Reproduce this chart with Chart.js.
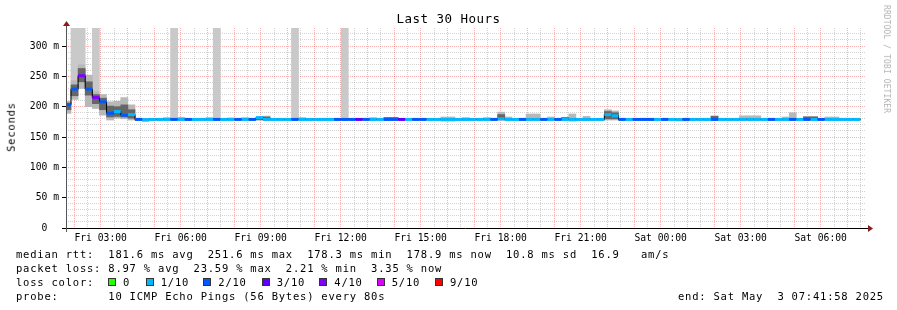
<!DOCTYPE html>
<html>
<head>
<meta charset="utf-8">
<script src="https://cdn.jsdelivr.net/npm/chart.js@4/dist/chart.umd.min.js"></script>
<style>
  html, body { margin: 0; padding: 0; background: #fff; }
  #wrap { position: relative; width: 897px; height: 310px; overflow: hidden;
          font-family: 'DejaVu Sans Mono', monospace; color: #000; }
  #wrap canvas { position: absolute; left: 0; top: 0; }
  .txt { position: absolute; white-space: pre; font-size: 10.5px; line-height: 10.5px; letter-spacing: 0.78px; }
  .title { position: absolute; left: 0; width: 897px; top: 13px; text-align: center; white-space: pre;
           font-size: 12.5px; line-height: 12.5px; letter-spacing: 0.47px; }
  .ylab { position: absolute; left: 11px; top: 127px; transform: translate(-50%, -50%) rotate(-90deg); }
  .credit { position: absolute; left: 886px; top: 59px; transform: translate(-50%, -50%) rotate(90deg);
            white-space: pre; font-size: 8px; line-height: 8px; letter-spacing: 0.1px; color: #b4b4b4; }
  .sq { position: absolute; top: 278px; width: 6px; height: 6px; border: 1px solid #333; }
</style>
</head>
<body>
<div id="wrap">
  <canvas id="smoke" width="897" height="310"></canvas>
  <div class="title">Last 30 Hours</div>
  <div class="txt ylab">Seconds</div>
  <div class="credit">RRDTOOL / TOBI OETIKER</div>
  <div class="txt" style="left:16px; top:249.4px">median rtt:  181.6 ms avg  251.6 ms max  178.3 ms min  178.9 ms now  10.8 ms sd  16.9   am/s</div>
  <div class="txt" style="left:16px; top:263.4px">packet loss: 8.97 % avg  23.59 % max  2.21 % min  3.35 % now</div>
  <div class="txt" style="left:16px; top:277.4px">loss color:</div>
  <div id="lossLegend"></div>
  <div class="txt" style="left:16px; top:291.4px">probe:       10 ICMP Echo Pings (56 Bytes) every 80s</div>
  <div class="txt" style="left:678px; top:291.4px">end: Sat May  3 07:41:58 2025</div>
</div>
<script>
// time axis, in hours counted from Fri 00:00
const rangeStartHour = 1 + 41 / 60 + 58 / 3600;   // Fri 01:41:58
const rangeHours = 30;
const labelHours = [3, 6, 9, 12, 15, 18, 21, 24, 27, 30];
const timeLabels = ['Fri 03:00', 'Fri 06:00', 'Fri 09:00', 'Fri 12:00', 'Fri 15:00',
                    'Fri 18:00', 'Fri 21:00', 'Sat 00:00', 'Sat 03:00', 'Sat 06:00'];

const yTop = 329.7;
const yLabelValues = [0, 50, 100, 150, 200, 250, 300];
const yLabels = ['0  ', '50 m', '100 m', '150 m', '200 m', '250 m', '300 m'];

// 16 minute consolidation steps, first one starts before the graph
const firstStepHour = 1.62;
const stepHours = 16 / 60;

// median rtt per step (ms)
const medianMs = [
  203, 229, 251, 229, 215, 208, 189, 192, 186, 187,
  179, 178.5, 179, 179, 179, 179, 179, 179, 179, 179,
  179, 179, 179, 179, 179, 179, 179, 182, 179, 179,
  179, 179, 179, 179, 179, 179, 179, 179, 179, 179,
  179, 179, 179, 179, 179, 179, 179, 179, 179, 179,
  179, 179, 179, 179, 179, 179, 179, 179, 179, 179,
  179, 180, 179, 179, 179, 179, 179, 179, 179, 179,
  179, 179, 179, 179, 179, 179, 187, 185, 179, 179,
  179, 179, 179, 179, 179, 179, 178.5, 179, 179, 179,
  179, 179, 179, 179, 179, 179, 179, 179, 179, 179,
  179, 179, 179, 179, 179, 179, 179, 179, 179, 179,
  179, 179
];

// loss class per step: index into lossLabels
const lossIdx = [
  2, 2, 4, 2, 4, 2, 2, 1, 2, 1,
  2, 1, 1, 1, 1, 2, 1, 2, 1, 1,
  1, 2, 1, 1, 2, 1, 2, 1, 1, 1,
  1, 1, 2, 1, 1, 1, 1, 1, 2, 2,
  2, 3, 2, 1, 1, 2, 2, 3, 1, 2,
  2, 1, 1, 1, 1, 1, 1, 1, 1, 1,
  2, 1, 1, 1, 2, 1, 1, 2, 1, 2,
  1, 1, 1, 1, 1, 1, 1, 1, 2, 1,
  2, 2, 2, 1, 2, 1, 1, 2, 1, 1,
  1, 2, 1, 1, 1, 1, 1, 1, 1, 2,
  1, 1, 2, 1, 2, 1, 2, 1, 1, 1,
  1, 1
];

// outer smoke band (ms)
const smokeLo = [
  189, 212, 230, 200, 197, 186, 178, 181, 180, 178,
  177.5, 175.5, 177.5, 177.5, 177.5, 177.5, 177.5, 177.5, 177.5, 177.5,
  177.5, 177.5, 177.5, 177.5, 177.5, 177.5, 177.5, 177.5, 177.5, 177.5,
  177.5, 177.5, 177.5, 177.5, 177.5, 177.5, 177.5, 177.5, 177.5, 177.5,
  177.5, 177.5, 177.5, 177.5, 177.5, 177.5, 177.5, 177.5, 177.5, 177.5,
  177.5, 177.5, 177.5, 176, 176, 177.5, 177.5, 177.5, 177.5, 177.5,
  177.5, 177.5, 177.5, 177.5, 177.5, 177.5, 177.5, 177.5, 177.5, 177.5,
  177.5, 176, 177.5, 177.5, 177.5, 177.5, 178, 178, 177.5, 177.5,
  177.5, 177.5, 177.5, 177.5, 177.5, 177.5, 177.5, 176.5, 177.5, 177.5,
  177.5, 177.5, 177.5, 177.5, 177.5, 177.5, 177.5, 177.5, 177.5, 177.5,
  177.5, 177.5, 177.5, 177.5, 177.5, 177.5, 177.5, 177.5, 177.5, 177.5,
  177.5, 177.5
];
const smokeHi = [
  209, 243, 269, 252, 225, 220, 208, 209, 215, 203,
  181, 180.5, 180.5, 180.5, 182, 180.5, 182.5, 180.5, 180.5, 180.5,
  182, 180.5, 180.5, 181.5, 180.5, 182, 180.5, 180.5, 184.5, 180.5,
  180.5, 180.5, 180.5, 182, 180.5, 180.5, 180.5, 180.5, 180.5, 180.5,
  180.5, 180.5, 180.5, 182, 180.5, 182.5, 182.5, 180.5, 180.5, 180.5,
  180.5, 180.5, 180.5, 183, 183, 180.5, 182, 180.5, 180.5, 182,
  180.5, 191, 183, 180.5, 180.5, 188, 188, 180.5, 183, 180.5,
  182.5, 188, 180.5, 184, 180.5, 180.5, 195, 193, 180.5, 180.5,
  180.5, 180.5, 180.5, 180.5, 180.5, 180.5, 180.5, 180.5, 180.5, 180.5,
  180.5, 185, 180.5, 180.5, 180.5, 185, 185, 185, 180.5, 180.5,
  180.5, 183, 190, 180.5, 184, 184, 180.5, 183, 183, 180.5,
  180.5, 180.5
];
// dense core of the smoke (ms)
const coreLo = [
  195, 218, 241, 219, 205, 195, 183, 184, 183, 181,
  178.5, 178.5, 178.5, 178.5, 178.5, 178.5, 178.5, 178.5, 178.5, 178.5,
  178.5, 178.5, 178.5, 178.5, 178.5, 178.5, 178.5, 178.5, 178.5, 178.5,
  178.5, 178.5, 178.5, 178.5, 178.5, 178.5, 178.5, 178.5, 178.5, 178.5,
  178.5, 178.5, 178.5, 178.5, 178.5, 178.5, 178.5, 178.5, 178.5, 178.5,
  178.5, 178.5, 178.5, 178.5, 178.5, 178.5, 178.5, 178.5, 178.5, 178.5,
  178.5, 178.5, 178.5, 178.5, 178.5, 178.5, 178.5, 178.5, 178.5, 178.5,
  178.5, 178.5, 178.5, 178.5, 178.5, 178.5, 180, 180, 178.5, 178.5,
  178.5, 178.5, 178.5, 178.5, 178.5, 178.5, 178.5, 178.5, 178.5, 178.5,
  178.5, 178.5, 178.5, 178.5, 178.5, 178.5, 178.5, 178.5, 178.5, 178.5,
  178.5, 178.5, 178.5, 178.5, 178.5, 178.5, 178.5, 178.5, 178.5, 178.5,
  178.5, 178.5
];
const coreHi = [
  206, 236, 263, 241, 220, 214, 201, 200, 203, 195,
  179.8, 179.8, 179.8, 179.8, 179.8, 179.8, 179.8, 179.8, 179.8, 179.8,
  179.8, 179.8, 179.8, 179.8, 179.8, 179.8, 179.8, 179.8, 183, 179.8,
  179.8, 179.8, 179.8, 179.8, 179.8, 179.8, 179.8, 179.8, 179.8, 179.8,
  179.8, 179.8, 179.8, 179.8, 179.8, 182, 182, 179.8, 179.8, 179.8,
  179.8, 179.8, 179.8, 179.8, 179.8, 179.8, 179.8, 179.8, 179.8, 179.8,
  179.8, 187, 179.8, 179.8, 179.8, 179.8, 179.8, 179.8, 179.8, 179.8,
  182, 179.8, 179.8, 179.8, 179.8, 179.8, 192, 190, 179.8, 179.8,
  179.8, 179.8, 179.8, 179.8, 179.8, 179.8, 179.8, 179.8, 179.8, 179.8,
  179.8, 184, 179.8, 179.8, 179.8, 179.8, 179.8, 179.8, 179.8, 179.8,
  179.8, 179.8, 179.8, 179.8, 183, 183, 179.8, 179.8, 179.8, 179.8,
  179.8, 179.8
];
// steps where the smoke runs off the top of the graph
const offTopSteps = [1, 2, 4, 15, 21, 32, 39];

const lossLabels = ['0', '1/10', '2/10', '3/10', '4/10', '5/10', '9/10'];
const lossColors = ['#26ff00', '#00b8ff', '#0059ff', '#5e00ff', '#7e00ff', '#dd00ff', '#ff0000'];
const legendBoxX = [108, 145.7, 203.3, 261.7, 319.3, 376.7, 435];

// legend boxes for the loss colours
const legendEl = document.getElementById('lossLegend');
lossLabels.forEach((lab, i) => {
    const sq = document.createElement('span');
    sq.className = 'sq';
    sq.style.left = legendBoxX[i] + 'px';
    sq.style.background = lossColors[i];
    legendEl.appendChild(sq);
    const t = document.createElement('span');
    t.className = 'txt';
    t.style.left = (legendBoxX[i] + 15) + 'px';
    t.style.top = '277.4px';
    t.textContent = lab;
    legendEl.appendChild(t);
});

const stepStart = i => firstStepHour + i * stepHours;
const stepCenter = i => firstStepHour + (i + 0.5) * stepHours;

const offTopData = offTopSteps.map(i => ({ x: stepCenter(i), y: [smokeHi[i], yTop] }));
const outerData = medianMs.map((_, i) => ({ x: stepCenter(i), y: [smokeLo[i], smokeHi[i]] }));
const coreData = medianMs.map((_, i) => ({ x: stepCenter(i), y: [coreLo[i], coreHi[i]] }));

const stepLine = medianMs.map((m, i) => ({ x: stepStart(i), y: m }));
stepLine.push({ x: stepStart(medianMs.length), y: medianMs[medianMs.length - 1] });

const lossSegments = [];
medianMs.forEach((m, i) => {
    lossSegments.push({ x: stepStart(i), y: m }, { x: stepStart(i + 1), y: m }, { x: stepStart(i + 1), y: null });
});

const xGrid = [];
for (let h = 2; h < rangeStartHour + rangeHours; h += 0.5) xGrid.push(h);
const yGrid = [];
for (let v = 0; v <= 320; v += 10) yGrid.push(v);

const MAJOR = 'rgba(235, 70, 70, 0.42)';
const MINOR = 'rgba(150, 150, 150, 0.42)';
const tickFont = { family: "'DejaVu Sans Mono', monospace", size: 9.7 };

const axisArrows = {
    id: 'axisArrows',
    afterDraw(chart) {
        const { ctx, chartArea: a } = chart;
        ctx.save();
        ctx.lineWidth = 1;
        ctx.strokeStyle = '#000';
        ctx.beginPath();
        ctx.moveTo(a.left - 4, a.bottom + 0.5);
        ctx.lineTo(a.right + 3, a.bottom + 0.5);
        ctx.stroke();
        ctx.strokeStyle = '#555';
        ctx.beginPath();
        ctx.moveTo(a.left + 0.5, a.bottom + 4);
        ctx.lineTo(a.left + 0.5, a.top - 3);
        ctx.stroke();
        ctx.fillStyle = '#8b1c1c';
        ctx.beginPath();
        ctx.moveTo(a.left + 0.5, a.top - 7);
        ctx.lineTo(a.left - 3, a.top - 2);
        ctx.lineTo(a.left + 4, a.top - 2);
        ctx.closePath();
        ctx.fill();
        ctx.beginPath();
        ctx.moveTo(a.right + 7, a.bottom + 0.5);
        ctx.lineTo(a.right + 2, a.bottom - 3);
        ctx.lineTo(a.right + 2, a.bottom + 4);
        ctx.closePath();
        ctx.fill();
        ctx.restore();
    }
};

const barBase = { grouped: false, categoryPercentage: 1, barPercentage: 1, borderWidth: 0 };

new Chart(document.getElementById('smoke'), {
    type: 'bar',
    data: {
        datasets: [
            {
                type: 'line', data: lossSegments, order: 0,
                borderWidth: 3, pointRadius: 0, spanGaps: false,
                borderColor: lossColors[1],
                segment: { borderColor: c => lossColors[lossIdx[Math.floor(c.p0DataIndex / 3)]] }
            },
            {
                type: 'line', data: stepLine, order: 1, stepped: true,
                borderWidth: 1, pointRadius: 0, borderColor: '#000'
            },
            Object.assign({ data: coreData, order: 2, backgroundColor: '#666666' }, barBase),
            Object.assign({ data: outerData, order: 3, backgroundColor: '#b8b8b8' }, barBase),
            Object.assign({ data: offTopData, order: 4, backgroundColor: '#c9c9c9' }, barBase)
        ]
    },
    options: {
        responsive: false,
        animation: false,
        devicePixelRatio: 1,
        layout: { padding: { left: 0, top: 28, right: 31, bottom: 0 } },
        plugins: { legend: { display: false }, tooltip: { enabled: false } },
        scales: {
            x: {
                type: 'linear', z: 1, offset: false,
                min: rangeStartHour, max: rangeStartHour + rangeHours,
                afterBuildTicks: s => { s.ticks = xGrid.map(v => ({ value: v })); },
                afterFit: s => { s.height = 82; },
                ticks: {
                    autoSkip: false, maxRotation: 0, minRotation: 0, padding: 2,
                    color: '#000', font: tickFont,
                    callback: v => { const i = labelHours.indexOf(v); return i < 0 ? '' : timeLabels[i]; }
                },
                grid: {
                    offset: false, tickLength: 3,
                    color: c => Number.isInteger(c.tick.value) ? MAJOR : MINOR,
                    tickColor: 'transparent'
                },
                border: { display: false, dash: [1, 1] }
            },
            y: {
                type: 'linear', z: 1, min: 0, max: yTop,
                afterBuildTicks: s => { s.ticks = yGrid.map(v => ({ value: v })); },
                afterFit: s => { s.width = 66; },
                ticks: {
                    autoSkip: false, padding: 3, color: '#000', font: tickFont,
                    callback: v => { const i = yLabelValues.indexOf(v); return i < 0 ? '' : yLabels[i]; }
                },
                grid: {
                    tickLength: 4,
                    color: c => c.tick.value % 50 === 0 ? MAJOR : MINOR,
                    tickColor: c => c.tick.value % 50 === 0 ? '#000' : 'transparent'
                },
                border: { display: false, dash: [1, 1] }
            }
        }
    },
    plugins: [axisArrows]
});
</script>
</body>
</html>
